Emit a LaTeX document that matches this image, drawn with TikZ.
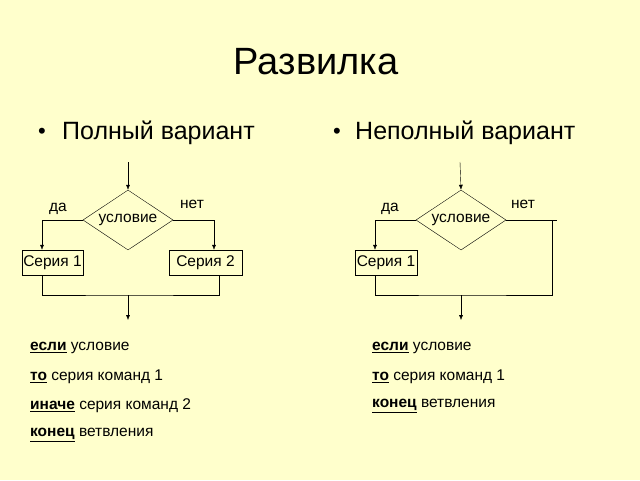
\documentclass[tikz,border=0pt]{standalone}
\usepackage{fontspec}
\setmainfont{Liberation Sans}
\usetikzlibrary{shapes.geometric,arrows.meta}
\definecolor{slide}{RGB}{255,255,204}
\begin{document}
\begin{tikzpicture}[x=1pt,y=-1pt,
  every node/.style={inner sep=0pt,font=\fontsize{15.5}{18}\selectfont},
  cond/.style={diamond,draw,minimum width=90pt,minimum height=60pt,aspect=1.5},
  seria/.style={draw,minimum height=25pt},
  flow/.style={-{Latex[length=5pt,width=4pt]}},
  txt/.style={anchor=west,yshift=-3pt,font=\fontsize{15.5}{18}\selectfont}]
\fill[slide] (0,0) rectangle (640,480);
%Title
\node (title) at (316,62) {\fontsize{38}{44}\selectfont Развилка};
\node (b1) at (42,133) {\fontsize{22}{26}\selectfont\textbullet};
\node[anchor=west] (h1) at (62,133) {\fontsize{25}{28}\selectfont Полный вариант};
\node (b2) at (337,133) {\fontsize{22}{26}\selectfont\textbullet};
\node[anchor=west] (h2) at (355,133) {\fontsize{25}{28}\selectfont Неполный вариант};

%Full variant
\coordinate (inL) at (128,162);
\node[cond] (cL) at (128,220) {\raisebox{-3pt}{условие}};
\node (yesL) at (58,209) {да};
\node (noL) at (192,204) {нет};
\node[seria,minimum width=61pt] (s1L) at (52.5,262.5) {Серия 1};
\node[seria,minimum width=73pt] (s2L) at (205.5,262.5) {Серия 2};
\coordinate (mL) at (128,295);
\coordinate (outL) at (128,320);
\draw[flow] (inL) -- (cL.north);
\draw[flow] (cL.west) -| (s1L.north -| 42,0);
\draw[flow] (cL.east) -| (s2L.north -| 214,0);
\draw (s1L.south -| 42,0) |- (mL) -| (s2L.south -| 219,0);
\draw[flow] (mL) -- (outL);

%Partial variant
\coordinate (inR) at (460,162);
\node[cond] (cR) at (461,220) {\raisebox{-3pt}{условие}};
\node (yesR) at (390,209) {да};
\node (noR) at (523,204) {нет};
\node[seria,minimum width=62pt] (s1R) at (386,262.5) {Серия 1};
\coordinate (eR) at (557,220);
\coordinate (mR) at (461,295);
\coordinate (outR) at (461,320);
\draw[flow] (inR) -- (cR.north);
\draw[flow] (cR.west) -| (s1R.north -| 375,0);
\draw (cR.east) -- (eR);
\draw (552,220) |- (mR) -| (s1R.south -| 375,0);
\draw[flow] (mR) -- (outR);

%Pseudocode
\node[txt] (l1) at (30,345) {\underline{\textbf{если}} условие};
\node[txt] (l2) at (30,374) {\underline{\textbf{то}} серия команд 1};
\node[txt] (l3) at (30,403) {\underline{\textbf{иначе}} серия команд 2};
\node[txt] (l4) at (30,432) {\underline{\textbf{конец}} ветвления};
\node[txt] (r1) at (372,345) {\underline{\textbf{если}} условие};
\node[txt] (r2) at (372,374) {\underline{\textbf{то}} серия команд 1};
\node[txt] (r3) at (372,403) {\underline{\textbf{конец}} ветвления};
\end{tikzpicture}
\end{document}
